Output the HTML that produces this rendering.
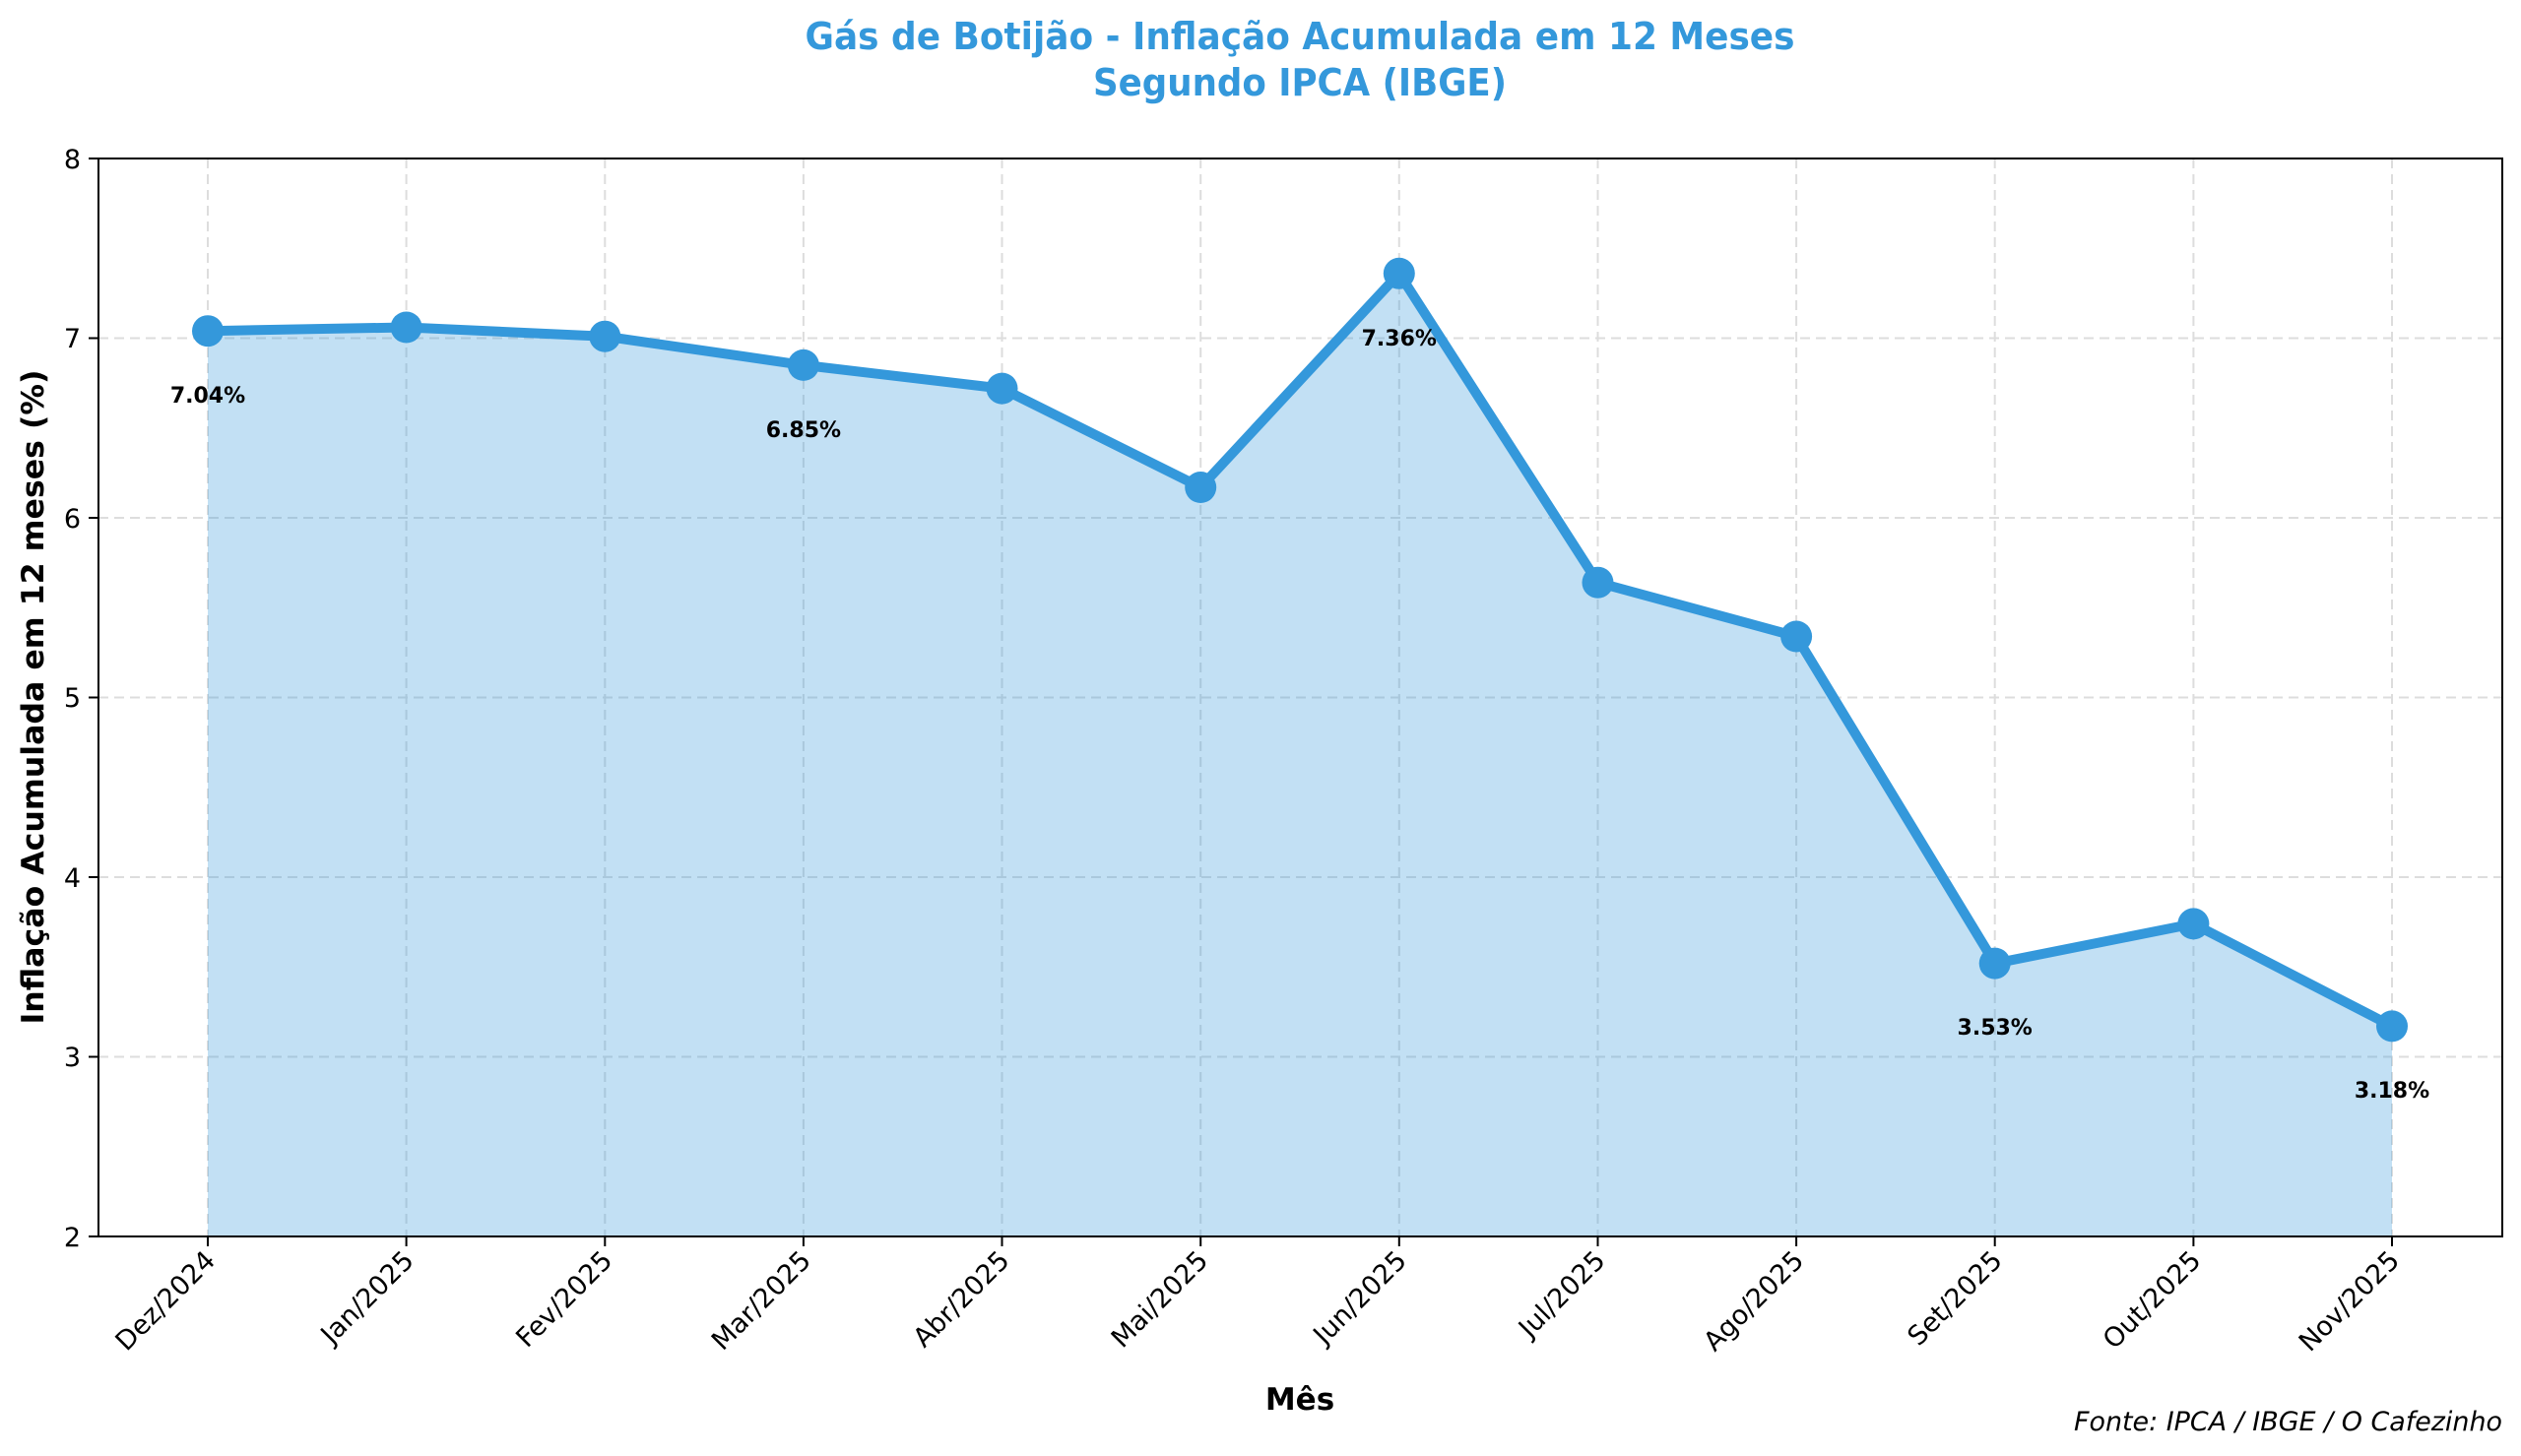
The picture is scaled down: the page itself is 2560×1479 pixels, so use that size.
<!DOCTYPE html>
<html><head><meta charset="utf-8"><style>
html,body{margin:0;padding:0;background:#fff;}
svg{display:block;font-family:"DejaVu Sans","Liberation Sans",sans-serif;}
</style></head><body>
<svg width="2560" height="1479" viewBox="0 0 2560 1479" xmlns="http://www.w3.org/2000/svg">
<rect width="2560" height="1479" fill="#fff"/>
<text x="1320" y="50" text-anchor="middle" font-size="38" font-weight="bold" fill="#3498db" textLength="1005" lengthAdjust="spacingAndGlyphs">Gás de Botijão - Inflação Acumulada em 12 Meses</text>
<text x="1320" y="97" text-anchor="middle" font-size="38" font-weight="bold" fill="#3498db" textLength="420" lengthAdjust="spacingAndGlyphs">Segundo IPCA (IBGE)</text>
<g stroke="#dddddd" stroke-width="2" stroke-dasharray="10,6">
<line x1="100" x2="2541" y1="343.5" y2="343.5"/>
<line x1="100" x2="2541" y1="526" y2="526"/>
<line x1="100" x2="2541" y1="708.5" y2="708.5"/>
<line x1="100" x2="2541" y1="891" y2="891"/>
<line x1="100" x2="2541" y1="1073.5" y2="1073.5"/>
<line y1="161" y2="1256" x1="211" x2="211"/><line y1="161" y2="1256" x1="412.6" x2="412.6"/><line y1="161" y2="1256" x1="614.3" x2="614.3"/><line y1="161" y2="1256" x1="815.9" x2="815.9"/><line y1="161" y2="1256" x1="1017.5" x2="1017.5"/><line y1="161" y2="1256" x1="1219.2" x2="1219.2"/><line y1="161" y2="1256" x1="1420.8" x2="1420.8"/><line y1="161" y2="1256" x1="1622.5" x2="1622.5"/><line y1="161" y2="1256" x1="1824.1" x2="1824.1"/><line y1="161" y2="1256" x1="2025.7" x2="2025.7"/><line y1="161" y2="1256" x1="2227.4" x2="2227.4"/><line y1="161" y2="1256" x1="2429" x2="2429"/>
</g>
<polygon fill="#3498db" fill-opacity="0.3" points="211,1256 211,336.2 412.6,332.5 614.3,341.7 815.9,370.9 1017.5,394.6 1219.2,495 1420.8,277.8 1622.5,591.7 1824.1,646.5 2025.7,978.6 2227.4,938.4 2429,1042.4 2429,1256"/>
<polyline fill="none" stroke="#3498db" stroke-width="10" stroke-linejoin="round" points="211,336.2 412.6,332.5 614.3,341.7 815.9,370.9 1017.5,394.6 1219.2,495 1420.8,277.8 1622.5,591.7 1824.1,646.5 2025.7,978.6 2227.4,938.4 2429,1042.4"/>
<g fill="#3498db">
<circle cx="211" cy="336.2" r="16"/><circle cx="412.6" cy="332.5" r="16"/><circle cx="614.3" cy="341.7" r="16"/><circle cx="815.9" cy="370.9" r="16"/><circle cx="1017.5" cy="394.6" r="16"/><circle cx="1219.2" cy="495" r="16"/><circle cx="1420.8" cy="277.8" r="16"/><circle cx="1622.5" cy="591.7" r="16"/><circle cx="1824.1" cy="646.5" r="16"/><circle cx="2025.7" cy="978.6" r="16"/><circle cx="2227.4" cy="938.4" r="16"/><circle cx="2429" cy="1042.4" r="16"/>
</g>
<g font-size="22" font-weight="bold" text-anchor="middle" fill="#000">
<text x="211" y="409">7.04%</text>
<text x="815.9" y="444">6.85%</text>
<text x="1420.8" y="351">7.36%</text>
<text x="2025.7" y="1051">3.53%</text>
<text x="2429" y="1115">3.18%</text>
</g>
<rect x="100" y="161" width="2441" height="1095" fill="none" stroke="#000" stroke-width="2"/>
<g stroke="#000" stroke-width="2">
<line x1="90" x2="100" y1="161" y2="161"/><line x1="90" x2="100" y1="343.5" y2="343.5"/><line x1="90" x2="100" y1="526" y2="526"/><line x1="90" x2="100" y1="708.5" y2="708.5"/><line x1="90" x2="100" y1="891" y2="891"/><line x1="90" x2="100" y1="1073.5" y2="1073.5"/><line x1="90" x2="100" y1="1256" y2="1256"/>
<line y1="1256" y2="1266" x1="211" x2="211"/><line y1="1256" y2="1266" x1="412.6" x2="412.6"/><line y1="1256" y2="1266" x1="614.3" x2="614.3"/><line y1="1256" y2="1266" x1="815.9" x2="815.9"/><line y1="1256" y2="1266" x1="1017.5" x2="1017.5"/><line y1="1256" y2="1266" x1="1219.2" x2="1219.2"/><line y1="1256" y2="1266" x1="1420.8" x2="1420.8"/><line y1="1256" y2="1266" x1="1622.5" x2="1622.5"/><line y1="1256" y2="1266" x1="1824.1" x2="1824.1"/><line y1="1256" y2="1266" x1="2025.7" x2="2025.7"/><line y1="1256" y2="1266" x1="2227.4" x2="2227.4"/><line y1="1256" y2="1266" x1="2429" x2="2429"/>
</g>
<g font-size="27" text-anchor="end" fill="#000">
<text x="82" y="171">8</text><text x="82" y="353">7</text><text x="82" y="536">6</text><text x="82" y="718">5</text><text x="82" y="901">4</text><text x="82" y="1083">3</text><text x="82" y="1266">2</text>
</g>
<g font-size="27" text-anchor="end" fill="#000">
<text transform="translate(220,1282) rotate(-45)">Dez/2024</text>
<text transform="translate(421.6,1282) rotate(-45)">Jan/2025</text>
<text transform="translate(623.3,1282) rotate(-45)">Fev/2025</text>
<text transform="translate(824.9,1282) rotate(-45)">Mar/2025</text>
<text transform="translate(1026.5,1282) rotate(-45)">Abr/2025</text>
<text transform="translate(1228.2,1282) rotate(-45)">Mai/2025</text>
<text transform="translate(1429.8,1282) rotate(-45)">Jun/2025</text>
<text transform="translate(1631.5,1282) rotate(-45)">Jul/2025</text>
<text transform="translate(1833.1,1282) rotate(-45)">Ago/2025</text>
<text transform="translate(2034.7,1282) rotate(-45)">Set/2025</text>
<text transform="translate(2236.4,1282) rotate(-45)">Out/2025</text>
<text transform="translate(2438,1282) rotate(-45)">Nov/2025</text>
</g>
<text x="1320" y="1432" text-anchor="middle" font-size="31" font-weight="bold">Mês</text>
<text transform="translate(44,708) rotate(-90)" text-anchor="middle" font-size="31" font-weight="bold" textLength="665" lengthAdjust="spacingAndGlyphs">Inflação Acumulada em 12 meses (%)</text>
<text x="2541" y="1453" text-anchor="end" font-size="27" font-style="italic" textLength="435" lengthAdjust="spacingAndGlyphs">Fonte: IPCA / IBGE / O Cafezinho</text>
</svg>
</body></html>
